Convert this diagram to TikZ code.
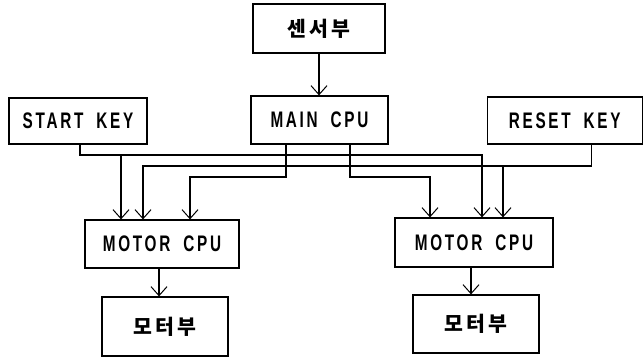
\documentclass[tikz,border=0pt]{standalone}
\usepackage{fontspec}
\usetikzlibrary{arrows.meta,calc}
\newfontfamily\lab{Liberation Sans}[FakeStretch=0.68,LetterSpace=12]
\newfontfamily\kr{Noto Sans CJK KR}[LetterSpace=14]
\newcommand{\wsp}{\hspace*{13pt}}
\begin{document}
\begin{tikzpicture}[x=1pt,y=-1pt,
  box/.style={draw,line width=1.2pt,rectangle,inner sep=0pt,font=\fontsize{22.5}{24}\selectfont\lab\bfseries},
  kbox/.style={draw,line width=1.2pt,rectangle,inner sep=0pt,font=\fontsize{20.5}{23}\selectfont\kr\bfseries},
  arr/.style={line width=1.2pt,-{Straight Barb[length=9pt,width=16pt,line width=1pt]}}]
\useasboundingbox (0,0) rectangle (643,357);
\node[kbox,minimum width=132pt,minimum height=49pt] (sensor) at (319,28.5) {센서부};
\node[box,minimum width=137pt,minimum height=48pt] (main) at (319.5,120) {MAIN\wsp{}CPU};
\node[box,minimum width=138pt,minimum height=46pt] (start) at (78,121) {START\wsp{}KEY};
\node[box,minimum width=155pt,minimum height=47pt] (reset) at (564.75,120.5) {RESET\wsp{}KEY};
\node[box,minimum width=154pt,minimum height=48pt] (motor1) at (162,244) {MOTOR\wsp{}CPU};
\node[box,minimum width=158pt,minimum height=49pt] (motor2) at (474,242.5) {MOTOR\wsp{}CPU};
\node[kbox,minimum width=126pt,minimum height=59pt] (mot1) at (165,326.5) {모터부};
\node[kbox,minimum width=126pt,minimum height=58pt] (mot2) at (476,324) {모터부};
% arrow targets on motor CPU tops
\coordinate (m1a) at ($(motor1.north)+(-41,0)$);
\coordinate (m1b) at ($(motor1.north)+(-19,0)$);
\coordinate (m1c) at ($(motor1.north)+(28,0)$);
\coordinate (m2a) at ($(motor2.north)+(-44,0)$);
\coordinate (m2b) at ($(motor2.north)+(8,0)$);
\coordinate (m2c) at ($(motor2.north)+(29,0)$);
% bus levels
\coordinate (yS) at (0,155);
\coordinate (yR) at (0,166);
\coordinate (yM) at (0,177);
% sources
\coordinate (sK) at ($(start.south)+(2,0)$);
\coordinate (rK) at ($(reset.south)+(27,0)$);
\coordinate (mL) at ($(main.south)+(-33.5,0)$);
\coordinate (mR) at ($(main.south)+(30.5,0)$);
\draw[arr] (sensor.south) -- (sensor.south |- main.north);
\draw[arr] (sK) |- (yS -| m2b) -- (m2b);
\draw[arr] (yS -| m1a) -- (m1a);
\draw[arr] (rK) |- (yR -| m1b) -- (m1b);
\draw[arr] (yR -| m2c) -- (m2c);
\draw[arr] (mL) |- (yM -| m1c) -- (m1c);
\draw[arr] (mR) |- (yM -| m2a) -- (m2a);
\coordinate (o1) at ($(motor1.south)+(-3,0)$);
\coordinate (o2) at ($(motor2.south)+(-3,0)$);
\draw[arr] (o1) -- (o1 |- mot1.north);
\draw[arr] (o2) -- (o2 |- mot2.north);
\end{tikzpicture}
\end{document}
